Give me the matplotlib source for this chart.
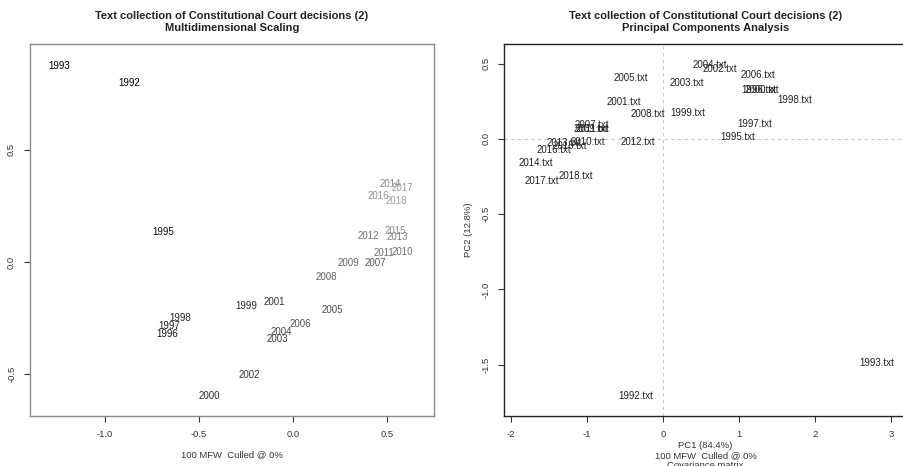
import numpy as np
import matplotlib
matplotlib.use("Agg")
import matplotlib.pyplot as plt

plt.rcParams['font.family'] = ['Liberation Sans', 'DejaVu Sans']
plt.rcParams['axes.unicode_minus'] = False

# MDS coordinates (one label per year)
mds_labels = ['1992', '1993', '1995', '1996', '1997', '1998', '1999', '2000',
              '2001', '2002', '2003', '2004', '2005', '2006', '2007', '2008',
              '2009', '2010', '2011', '2012', '2013', '2014', '2015', '2016',
              '2017', '2018']
mds_x = [-0.872, -1.245, -0.691, -0.67, -0.66, -0.60, -0.25, -0.447,
         -0.101, -0.234, -0.085, -0.064, 0.207, 0.037, 0.436, 0.176,
         0.293, 0.58, 0.484, 0.40, 0.553, 0.516, 0.543, 0.452,
         0.58, 0.548]
mds_y = [0.80, 0.876, 0.135, -0.32, -0.287, -0.25, -0.194, -0.597,
         -0.179, -0.503, -0.342, -0.31, -0.213, -0.275, -0.005, -0.067,
         -0.005, 0.047, 0.040, 0.114, 0.112, 0.349, 0.137, 0.296,
         0.33, 0.274]

# PCA scores
pca_labels = [l + '.txt' for l in mds_labels]
pca_x = [-0.356, 2.81, 0.985, 1.25, 1.206, 1.73, 0.326, 1.30,
         -0.52, 0.744, 0.317, 0.612, -0.43, 1.25, -0.94, -0.20,
         -0.95, -0.99, -0.93, -0.33, -1.30, -1.675, -1.22, -1.43,
         -1.587, -1.15]
pca_y = [-1.706, -1.49, 0.009, 0.326, 0.098, 0.259, 0.17, 0.326,
         0.244, 0.465, 0.37, 0.487, 0.407, 0.425, 0.093, 0.164,
         0.066, -0.018, 0.066, -0.018, -0.03, -0.162, -0.045, -0.073,
         -0.277, -0.244]
pc1_var = 84.4
pc2_var = 12.8

title = "Text collection of Constitutional Court decisions (2)"

fig = plt.figure(figsize=(9.04, 4.66), dpi=100)

def r_style(ax, frame_color):
    for s in ax.spines.values():
        s.set_color(frame_color)
        s.set_linewidth(1.0)
    ax.tick_params(direction='out', length=4, width=0.8, labelsize=6.8,
                   colors='#333333', pad=6)
    for lab in ax.get_yticklabels():
        lab.set_rotation(90)
        lab.set_va('center')

# left: MDS
ax1 = fig.add_axes([0.0332, 0.107, 0.447, 0.799])
n = len(mds_labels)
shades = np.linspace(0.0, 0.62, n)
for i, (lab, x, y) in enumerate(zip(mds_labels, mds_x, mds_y)):
    g = shades[i]
    ax1.text(x, y, lab, ha='center', va='center', fontsize=7,
             color=(g, g, g))
ax1.set_xlim(-1.40, 0.75)
ax1.set_ylim(-0.687, 0.973)
ax1.set_xticks([-1.0, -0.5, 0.0, 0.5])
ax1.set_yticks([-0.5, 0.0, 0.5])
ax1.set_xticklabels(['-1.0', '-0.5', '0.0', '0.5'])
ax1.set_yticklabels(['-0.5', '0.0', '0.5'])
r_style(ax1, '#8a8a8a')
ax1.set_xlabel("100 MFW  Culled @ 0%", fontsize=6.8, color='#333333',
               labelpad=8)
ax1.set_title(title + "\nMultidimensional Scaling", fontsize=8,
              fontweight='bold', color='#222222', pad=9, linespacing=1.3)

# right: PCA
ax2 = fig.add_axes([0.558, 0.108, 0.445, 0.798])
ax2.axhline(0, color='#c8c8c8', lw=0.8, ls=(0, (3, 3)))
ax2.axvline(0, color='#c8c8c8', lw=0.8, ls=(0, (3, 3)))
for lab, x, y in zip(pca_labels, pca_x, pca_y):
    ax2.text(x, y, lab, ha='center', va='center', fontsize=7,
             color='#222222')
ax2.set_xlim(-2.084, 3.2)
ax2.set_ylim(-1.838, 0.631)
ax2.set_xticks([-2, -1, 0, 1, 2, 3])
ax2.set_yticks([-1.5, -1.0, -0.5, 0.0, 0.5])
ax2.set_yticklabels(['-1.5', '-1.0', '-0.5', '0.0', '0.5'])
r_style(ax2, '#222222')
ax2.set_xlabel(f"PC1 ({pc1_var}%)\n100 MFW  Culled @ 0%\nCovariance matrix",
               fontsize=6.8, color='#333333', labelpad=2, linespacing=1.15)
ax2.set_ylabel(f"PC2 ({pc2_var}%)", fontsize=6.8, color='#333333',
               labelpad=6)
ax2.set_title(title + "\nPrincipal Components Analysis", fontsize=8,
              fontweight='bold', color='#222222', pad=9, linespacing=1.3)

fig.savefig('out.png', dpi=100)
